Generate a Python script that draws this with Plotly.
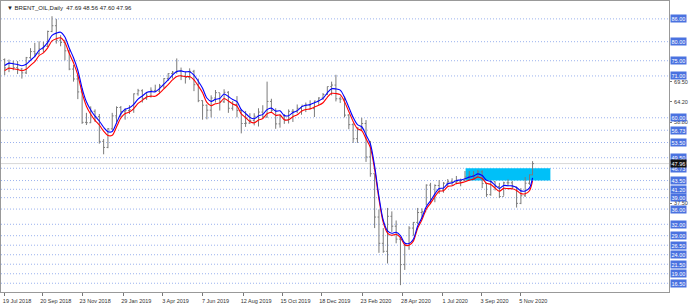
import plotly.graph_objects as go
import pandas as pd

# Weekly OHLC (BRENT_OIL)
dates = [
 "2018-07-20","2018-07-27","2018-08-03","2018-08-10","2018-08-17","2018-08-24","2018-08-31",
 "2018-09-07","2018-09-14","2018-09-21","2018-09-28","2018-10-05","2018-10-12","2018-10-19","2018-10-26",
 "2018-11-02","2018-11-09","2018-11-16","2018-11-23","2018-11-30","2018-12-07","2018-12-14","2018-12-21","2018-12-28",
 "2019-01-04","2019-01-11","2019-01-18","2019-01-25","2019-02-01","2019-02-08","2019-02-15","2019-02-22",
 "2019-03-01","2019-03-08","2019-03-15","2019-03-22","2019-03-29","2019-04-05","2019-04-12","2019-04-19","2019-04-26",
 "2019-05-03","2019-05-10","2019-05-17","2019-05-24","2019-05-31","2019-06-07","2019-06-14","2019-06-21","2019-06-28",
 "2019-07-05","2019-07-12","2019-07-19","2019-07-26","2019-08-02","2019-08-09","2019-08-16","2019-08-23","2019-08-30",
 "2019-09-06","2019-09-13","2019-09-20","2019-09-27","2019-10-04","2019-10-11","2019-10-18","2019-10-25",
 "2019-11-01","2019-11-08","2019-11-15","2019-11-22","2019-11-29","2019-12-06","2019-12-13","2019-12-20","2019-12-27",
 "2020-01-03","2020-01-10","2020-01-17","2020-01-24","2020-01-31","2020-02-07","2020-02-14","2020-02-21","2020-02-28",
 "2020-03-06","2020-03-13","2020-03-20","2020-03-27","2020-04-03","2020-04-10","2020-04-17","2020-04-24",
 "2020-05-01","2020-05-08","2020-05-15","2020-05-22","2020-05-29","2020-06-05","2020-06-12","2020-06-19","2020-06-26",
 "2020-07-03","2020-07-10","2020-07-17","2020-07-24","2020-07-31","2020-08-07","2020-08-14","2020-08-21","2020-08-28",
 "2020-09-04","2020-09-11","2020-09-18","2020-09-25","2020-10-02","2020-10-09","2020-10-16","2020-10-23","2020-10-30",
 "2020-11-06","2020-11-13","2020-11-20","2020-11-25",
]
opens = [
 75.3,73.1,74.3,73.2,72.8,71.8,75.8,
 77.4,76.8,78.1,78.8,82.7,84.2,80.4,79.8,
 77.6,72.8,70.2,66.8,58.8,58.7,61.7,60.3,53.8,
 52.2,57.1,60.5,62.7,61.6,61.9,62.1,66.3,
 67.1,65.1,65.7,67.2,67.0,68.4,70.3,71.6,72.0,
 72.2,70.9,70.6,72.2,68.7,64.5,63.3,62.0,65.2,
 66.6,64.2,66.7,62.5,63.5,61.9,58.5,58.6,59.3,
 60.4,61.5,60.2,64.3,61.9,58.4,60.5,59.4,
 61.7,61.7,62.5,63.3,63.4,62.4,64.4,65.2,66.1,
 68.2,68.6,65.0,64.9,60.7,58.2,54.5,57.3,58.5,
 49.7,45.3,33.9,27.0,24.9,34.1,31.5,28.1,
 21.4,26.4,31.0,32.5,35.1,35.3,42.3,38.7,42.2,
 41.0,42.8,43.2,43.1,43.3,43.5,44.4,44.8,44.4,
 45.8,42.7,39.8,43.2,41.9,39.3,42.9,42.9,41.8,
 37.5,39.5,42.8,45.0,
]
highs = [
 75.6,75.3,75.0,74.9,73.1,76.0,78.3,
 79.7,80.1,80.0,82.9,86.7,86.0,81.7,80.5,
 77.8,73.9,71.3,67.8,61.3,63.0,62.2,61.0,54.4,
 57.3,61.3,63.0,63.1,62.5,63.3,66.4,67.6,
 67.5,66.8,68.0,68.7,68.9,70.4,71.7,72.3,75.6,
 73.2,72.0,73.0,72.6,70.3,64.6,63.5,65.9,67.3,
 66.5,67.5,67.0,64.4,65.7,62.3,61.8,61.2,61.2,
 62.5,63.3,69.5,65.0,62.5,61.0,61.0,62.2,
 62.3,63.5,63.1,64.0,64.6,64.5,65.4,66.5,68.2,
 69.5,71.3,65.6,65.6,61.0,58.6,57.5,60.0,59.4,
 53.9,45.2,35.9,31.0,36.3,35.4,33.0,28.6,
 26.9,31.5,32.6,36.3,36.2,42.5,42.9,42.5,43.6,
 43.1,43.9,44.1,44.7,44.0,46.0,46.0,46.0,46.3,
 46.2,42.8,43.6,43.3,42.9,43.2,43.8,43.4,41.9,
 41.5,44.4,45.1,48.6,
]
lows = [
 71.2,72.0,72.5,71.5,70.3,71.5,75.5,
 75.9,76.6,77.2,78.6,82.5,79.5,78.8,75.1,
 72.5,69.5,64.9,58.4,58.1,58.6,58.9,53.2,50.4,
 52.0,56.8,58.8,60.1,59.5,61.0,61.3,65.8,
 64.0,64.7,65.3,66.7,66.3,67.7,69.7,70.3,71.6,
 69.9,69.0,70.0,67.0,64.1,59.5,59.6,60.1,64.0,
 61.9,63.9,61.3,61.9,60.1,55.9,57.6,58.4,58.0,
 57.7,59.9,60.0,61.4,57.1,57.4,58.4,58.5,
 58.9,61.2,60.8,61.5,62.3,60.2,63.4,64.7,66.0,
 65.9,64.3,63.9,60.1,57.0,53.4,53.4,56.8,48.4,
 44.5,31.0,24.5,24.5,21.7,30.0,27.0,16.0,
 20.0,25.3,29.0,32.0,33.6,37.0,37.3,37.8,40.0,
 40.3,42.0,42.3,42.5,42.0,43.4,44.0,44.0,44.2,
 41.5,39.2,39.5,40.9,38.9,39.5,42.0,41.2,36.4,
 37.3,39.2,42.4,44.9,
]
closes = [
 73.1,74.3,73.2,72.8,71.8,75.8,77.4,
 76.8,78.1,78.8,82.7,84.2,80.4,79.8,77.6,
 72.8,70.2,66.8,58.8,58.7,61.7,60.3,53.8,52.2,
 57.1,60.5,62.7,61.6,61.9,62.1,66.3,67.1,
 65.1,65.7,67.2,67.0,68.4,70.3,71.6,72.0,72.2,
 70.9,70.6,72.2,68.7,64.5,63.3,62.0,65.2,66.6,
 64.2,66.7,62.5,63.5,61.9,58.5,58.6,59.3,60.4,
 61.5,60.2,64.3,61.9,58.4,60.5,59.4,61.7,
 61.7,62.5,63.3,63.4,62.4,64.4,65.2,66.1,68.2,
 68.6,65.0,64.9,60.7,58.2,54.5,57.3,58.5,49.7,
 45.3,33.9,27.0,24.9,34.1,31.5,28.1,21.4,
 26.4,31.0,32.5,35.1,35.3,42.3,38.7,42.2,41.0,
 42.8,43.2,43.1,43.3,43.5,44.4,44.8,44.4,45.8,
 42.7,39.8,43.2,41.9,39.3,42.9,42.9,41.8,37.5,
 39.5,42.8,45.0,47.96,
]

# Horizontal level lines with boxed labels
levels = [86.00, 80.00, 75.00, 71.00, 60.00, 56.73, 53.50, 49.50, 46.73, 43.50, 41.20,
          39.00, 36.00, 32.00, 29.00, 26.50, 24.00, 21.50, 19.00, 16.50]
scale_ticks = [69.50, 64.20, 58.80, 37.50]
last_price = 47.96
zone = [("2020-08-08", "2020-12-24"), (43.50, 46.73)]

tick_dates = ["2018-07-19","2018-09-20","2018-11-23","2019-01-29","2019-04-03","2019-06-07",
              "2019-08-12","2019-10-15","2019-12-18","2020-02-23","2020-04-28","2020-07-01",
              "2020-09-03","2020-11-05"]
tick_text = ["19 Jul 2018","20 Sep 2018","23 Nov 2018","29 Jan 2019","3 Apr 2019","7 Jun 2019",
             "12 Aug 2019","15 Oct 2019","18 Dec 2019","23 Feb 2020","28 Apr 2020","1 Jul 2020",
             "3 Sep 2020","5 Nov 2020"]
header = "▼ BRENT_OIL,Daily  47.69 48.56 47.60 47.96"

ma = pd.Series(closes).rolling(4, min_periods=1).mean()
upper = ma * 1.009
lower = ma * 0.991

fig = go.Figure()
fig.add_trace(go.Ohlc(x=dates, open=opens, high=highs, low=lows, close=closes,
                      increasing=dict(line=dict(color="#7a7a7a", width=1)),
                      decreasing=dict(line=dict(color="#7a7a7a", width=1)),
                      tickwidth=0.45, showlegend=False, hoverinfo="skip"))
fig.add_trace(go.Scatter(x=dates, y=lower, mode="lines",
                         line=dict(color="#ff0000", width=1.1, shape="spline", smoothing=0.8),
                         showlegend=False, hoverinfo="skip"))
fig.add_trace(go.Scatter(x=dates, y=upper, mode="lines",
                         line=dict(color="#0000ff", width=1.1, shape="spline", smoothing=0.8),
                         showlegend=False, hoverinfo="skip"))

shapes = []
for lv in levels:
    shapes.append(dict(type="line", xref="paper", x0=0, x1=1, yref="y", y0=lv, y1=lv,
                       line=dict(color="#9bb2ee", width=1, dash="1px,2px"), layer="below"))
shapes.append(dict(type="line", xref="paper", x0=0, x1=1, yref="y", y0=last_price, y1=last_price,
                   line=dict(color="#d8d8d8", width=1), layer="below"))
shapes.append(dict(type="rect", xref="x", yref="y", x0=zone[0][0], x1=zone[0][1],
                   y0=zone[1][0], y1=zone[1][1], fillcolor="#00c0f8", line=dict(width=0), layer="below"))

annotations = []
for lv in levels:
    annotations.append(dict(xref="paper", yref="y", x=1, y=lv, xanchor="left", yanchor="middle",
                            xshift=1, text=f"{lv:.2f}", showarrow=False,
                            font=dict(family="Arial", size=5.5, color="white"),
                            bgcolor="#4a72e0", borderpad=0.5))
annotations.append(dict(xref="paper", yref="y", x=1, y=last_price, xanchor="left", yanchor="middle",
                        xshift=1, text=f"{last_price:.2f}", showarrow=False,
                        font=dict(family="Arial", size=5.5, color="white"),
                        bgcolor="#111111", borderpad=0.5))
annotations.append(dict(xref="paper", yref="paper", x=0, y=1, xanchor="left", yanchor="top",
                        xshift=4, yshift=-2, text=header, showarrow=False,
                        font=dict(family="Arial", size=6, color="#222222")))

fig.update_layout(
    width=690, height=304,
    margin=dict(l=0, r=21, t=0, b=11),
    paper_bgcolor="white", plot_bgcolor="white",
    shapes=shapes, annotations=annotations,
    xaxis=dict(type="date", range=["2018-07-14", "2021-07-05"], rangeslider=dict(visible=False),
               tickvals=tick_dates, ticktext=tick_text, showgrid=False, zeroline=False,
               ticks="outside", ticklen=3, tickcolor="#777", showline=True, linecolor="#999",
               linewidth=1, mirror=True, ticklabelshift=13, ticklabelstandoff=0,
               tickfont=dict(family="Arial", size=5.5, color="#333")),
    yaxis=dict(side="right", range=[14.2, 90.7], tickvals=scale_ticks,
               ticktext=[f"{v:.2f}" for v in scale_ticks], showgrid=False, zeroline=False,
               ticks="outside", ticklen=2, tickcolor="#777", showline=True, linecolor="#999",
               linewidth=1, mirror=True, ticklabelstandoff=1,
               tickfont=dict(family="Arial", size=5.5, color="#333")),
)

fig.write_html("out.html")
